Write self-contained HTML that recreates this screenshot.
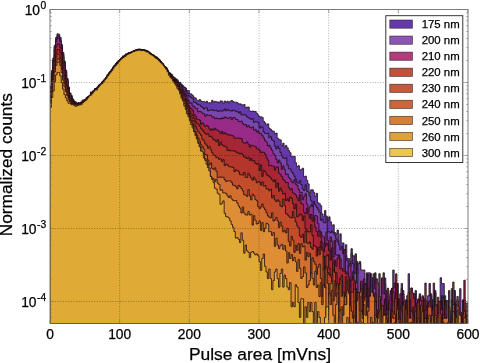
<!DOCTYPE html>
<html><head><meta charset="utf-8"><title>Pulse area histogram</title>
<style>html,body{margin:0;padding:0;background:#fff;}body{width:480px;height:363px;overflow:hidden;}</style></head>
<body>
<svg width="480" height="363" viewBox="0 0 480 363" style="display:block">
<rect width="480" height="363" fill="#fff"/>
<clipPath id="cp"><rect x="50.0" y="9.5" width="418.0" height="314.0"/></clipPath>
<g clip-path="url(#cp)" stroke="#1a0c10" stroke-opacity="0.85" stroke-width="0.95" stroke-linejoin="miter">
<path d="M50.00,323.50V86.06H51.39V70.53H52.79V58.09H54.18V45.27H55.57V37.56H56.97V33.84H58.36V34.17H59.75V37.49H61.15V44.55H62.54V52.61H63.93V61.15H65.33V70.03H66.72V78.57H68.11V87.00H69.51V92.93H70.90V95.56H72.29V99.68H73.69V101.08H75.08V102.39H76.47V104.67H77.87V103.24H79.26V103.45H80.65V104.40H82.05V102.20H83.44V99.84H84.83V99.26H86.23V97.89H87.62V97.05H89.01V95.66H90.41V91.89H91.80V92.13H93.19V90.19H94.59V90.58H95.98V88.22H97.37V86.87H98.77V84.69H100.16V83.95H101.55V82.68H102.95V80.94H104.34V79.44H105.73V79.05H107.13V75.52H108.52V72.85H109.91V71.40H111.31V69.70H112.70V67.12H114.09V65.16H115.49V63.99H116.88V61.90H118.27V60.48H119.67V59.72H121.06V58.41H122.45V55.93H123.85V55.94H125.24V53.93H126.63V53.91H128.03V52.87H129.42V52.51H130.81V51.90H132.21V51.92H133.60V50.62H134.99V50.36H136.39V49.47H137.78V49.25H139.17V49.51H140.57V49.78H141.96V50.00H143.35V49.61H144.75V50.31H146.14V50.78H147.53V51.82H148.93V52.70H150.32V53.46H151.71V55.29H153.11V55.15H154.50V56.22H155.89V56.96H157.29V58.28H158.68V59.44H160.07V62.95H161.47V63.54H162.86V65.40H164.25V67.23H165.65V67.59H167.04V69.94H168.43V72.10H169.83V73.77H171.22V74.70H172.61V76.96H174.01V78.82H175.40V78.80H176.79V79.84H178.19V82.57H179.58V82.28H180.97V84.34H182.37V85.68H183.76V87.00H185.15V88.02H186.55V90.46H187.94V90.65H189.33V93.70H190.73V93.98H192.12V95.58H193.51V97.24H194.91V98.11H196.30V100.15H197.69V100.80H199.09V99.49H200.48V100.96H201.87V101.62H203.27V101.48H204.66V102.64H206.05V101.22H207.45V102.98H208.84V102.66H210.23V102.66H211.63V100.36H213.02V102.08H214.41V101.34H215.81V101.77H217.20V101.89H218.59V102.87H219.99V100.92H221.38V101.22H222.77V103.26H224.17V101.06H225.56V102.31H226.95V101.20H228.35V102.96H229.74V101.18H231.13V100.48H232.53V101.58H233.92V102.20H235.31V102.20H236.71V102.64H238.10V103.87H239.49V103.87H240.89V104.38H242.28V105.44H243.67V104.47H245.07V107.86H246.46V107.07H247.85V107.02H249.25V110.88H250.64V111.57H252.03V110.96H253.43V111.35H254.82V111.46H256.21V113.21H257.61V115.15H259.00V116.79H260.39V116.79H261.79V117.39H263.18V121.24H264.57V122.95H265.97V125.19H267.36V123.89H268.75V128.16H270.15V129.36H271.54V130.87H272.93V131.13H274.33V133.60H275.72V133.05H277.11V138.24H278.51V139.43H279.90V139.90H281.29V145.90H282.69V143.21H284.08V146.91H285.47V145.41H286.87V147.86H288.26V150.61H289.65V152.69H291.05V156.84H292.44V156.26H293.83V156.49H295.23V162.85H296.62V166.58H298.01V165.65H299.41V169.93H300.80V169.40H302.19V168.21H303.59V176.78H304.98V176.13H306.37V180.24H307.77V183.85H309.16V193.71H310.55V189.85H311.95V189.85H313.34V192.25H314.73V196.44H316.13V193.34H317.52V202.71H318.91V203.72H320.31V205.83H321.70V213.88H323.09V216.83H324.49V210.54H325.88V216.06H327.27V220.08H328.67V216.83H330.06V221.84H331.45V225.69H332.85V224.68H334.24V232.51H335.63V233.80H337.03V230.07H338.42V241.21H339.81V233.80H341.21V242.93H342.60V242.93H343.99V250.89H345.39V255.78H346.78V258.54H348.17V258.54H349.57V261.56H350.96V248.71H352.35V255.78H353.75V255.78H355.14V268.63H356.53V261.56H357.93V277.75H359.32V261.56H360.71V277.75H362.11V290.61H363.50V312.58H364.89V283.54H366.29V272.87H367.68V272.87H369.07V272.87H370.47V290.61H371.86V277.75H373.25V312.58H374.65V272.87H376.04V283.54H377.43V290.61H378.83V299.73H380.22V299.73H381.61V277.75H383.01V272.87H384.40V283.54H385.79V290.61H387.19V312.58H388.58V323.50H389.97V290.61H391.37V312.58H392.76V299.73H394.15V299.73H395.55V299.73H396.94V283.54H398.33V323.50H399.73V312.58H401.12V283.54H402.51V290.61H403.91V312.58H405.30V299.73H406.69V299.73H408.09V299.73H409.48V299.73H410.87V299.73H412.27V312.58H413.66V312.58H415.05V290.61H416.45V299.73H417.84V299.73H419.23V299.73H420.63V312.58H422.02V323.50H423.41V323.50H424.81V299.73H426.20V323.50H427.59V312.58H428.99V283.54H430.38V312.58H431.77V299.73H433.17V312.58H434.56V290.61H435.95V323.50H437.35V323.50H438.74V312.58H440.13V277.75H441.53V283.54H442.92V283.54H444.31V299.73H445.71V312.58H447.10V323.50H448.49V290.61H449.89V323.50H451.28V299.73H452.67V312.58H454.07V290.61H455.46V312.58H456.85V299.73H458.25V323.50H459.64V312.58H461.03V312.58H462.43V299.73H463.82V299.73H465.21V323.50H466.61V323.50H468.00V323.50Z" fill="#6439ab"/>
<path d="M50.00,323.50V87.62H51.39V73.10H52.79V60.48H54.18V47.02H55.57V39.72H56.97V35.64H58.36V36.41H59.75V39.93H61.15V46.76H62.54V55.32H63.93V62.44H65.33V72.19H66.72V79.56H68.11V88.40H69.51V94.55H70.90V96.88H72.29V98.95H73.69V101.48H75.08V101.95H76.47V104.56H77.87V102.69H79.26V103.38H80.65V101.86H82.05V102.30H83.44V101.44H84.83V99.58H86.23V97.34H87.62V97.47H89.01V95.53H90.41V93.89H91.80V92.55H93.19V91.28H94.59V88.45H95.98V89.15H97.37V86.41H98.77V85.24H100.16V84.69H101.55V83.17H102.95V82.12H104.34V78.99H105.73V77.78H107.13V75.45H108.52V73.60H109.91V71.41H111.31V68.90H112.70V67.61H114.09V65.19H115.49V63.59H116.88V62.13H118.27V60.75H119.67V59.37H121.06V58.25H122.45V57.16H123.85V56.41H125.24V54.40H126.63V54.36H128.03V52.78H129.42V52.51H130.81V51.89H132.21V51.77H133.60V51.14H134.99V50.42H136.39V50.08H137.78V49.55H139.17V49.74H140.57V49.75H141.96V49.81H143.35V50.37H144.75V50.70H146.14V51.07H147.53V51.26H148.93V53.31H150.32V53.91H151.71V54.94H153.11V55.59H154.50V56.79H155.89V57.34H157.29V58.86H158.68V60.19H160.07V61.75H161.47V63.42H162.86V65.62H164.25V66.46H165.65V68.38H167.04V70.72H168.43V73.01H169.83V73.89H171.22V75.09H172.61V77.23H174.01V77.73H175.40V79.72H176.79V81.24H178.19V82.78H179.58V84.14H180.97V85.89H182.37V87.00H183.76V87.61H185.15V90.46H186.55V92.91H187.94V95.75H189.33V96.42H190.73V97.74H192.12V98.82H193.51V102.28H194.91V102.66H196.30V103.79H197.69V104.85H199.09V104.95H200.48V106.39H201.87V107.27H203.27V108.96H204.66V107.96H206.05V107.88H207.45V110.85H208.84V110.25H210.23V110.16H211.63V109.71H213.02V110.64H214.41V110.46H215.81V110.12H217.20V111.49H218.59V111.13H219.99V110.81H221.38V111.13H222.77V110.71H224.17V108.89H225.56V110.92H226.95V109.42H228.35V110.62H229.74V110.57H231.13V111.23H232.53V110.00H233.92V110.25H235.31V111.65H236.71V111.37H238.10V113.14H239.49V111.89H240.89V114.89H242.28V115.05H243.67V114.73H245.07V115.02H246.46V116.82H247.85V117.62H249.25V118.82H250.64V119.30H252.03V118.61H253.43V122.33H254.82V121.77H256.21V121.93H257.61V122.60H259.00V128.14H260.39V126.46H261.79V127.35H263.18V132.02H264.57V133.41H265.97V133.51H267.36V133.32H268.75V137.67H270.15V136.55H271.54V139.97H272.93V141.04H274.33V146.06H275.72V148.94H277.11V146.13H278.51V148.55H279.90V152.54H281.29V155.82H282.69V158.01H284.08V158.42H285.47V157.80H286.87V165.00H288.26V168.82H289.65V168.82H291.05V171.85H292.44V173.49H293.83V176.29H295.23V179.17H296.62V182.78H298.01V183.23H299.41V180.60H300.80V184.63H302.19V188.96H303.59V190.36H304.98V184.87H306.37V191.23H307.77V192.12H309.16V196.31H310.55V200.35H311.95V206.37H313.34V201.55H314.73V204.98H316.13V207.33H317.52V209.34H318.91V212.05H320.31V220.43H321.70V218.99H323.09V222.72H324.49V222.72H325.88V217.61H327.27V231.84H328.67V231.84H330.06V232.91H331.45V230.80H332.85V232.91H334.24V235.18H335.63V238.91H337.03V241.67H338.42V244.69H339.81V249.85H341.21V246.32H342.60V253.82H343.99V249.85H345.39V244.69H346.78V260.89H348.17V273.74H349.57V266.67H350.96V253.82H352.35V263.65H353.75V273.74H355.14V253.82H356.53V273.74H357.93V263.65H359.32V263.65H360.71V270.01H362.11V270.01H363.50V270.01H364.89V304.84H366.29V273.74H367.68V295.72H369.07V295.72H370.47V273.74H371.86V304.84H373.25V273.74H374.65V288.65H376.04V304.84H377.43V295.72H378.83V273.74H380.22V323.50H381.61V295.72H383.01V295.72H384.40V277.98H385.79V317.69H387.19V304.84H388.58V317.69H389.97V295.72H391.37V288.65H392.76V270.01H394.15V295.72H395.55V282.86H396.94V304.84H398.33V317.69H399.73V304.84H401.12V288.65H402.51V295.72H403.91V317.69H405.30V304.84H406.69V295.72H408.09V273.74H409.48V317.69H410.87V323.50H412.27V323.50H413.66V295.72H415.05V323.50H416.45V317.69H417.84V317.69H419.23V295.72H420.63V317.69H422.02V295.72H423.41V317.69H424.81V304.84H426.20V317.69H427.59V295.72H428.99V295.72H430.38V295.72H431.77V323.50H433.17V304.84H434.56V317.69H435.95V304.84H437.35V323.50H438.74V317.69H440.13V304.84H441.53V295.72H442.92V323.50H444.31V295.72H445.71V304.84H447.10V317.69H448.49V317.69H449.89V317.69H451.28V288.65H452.67V317.69H454.07V323.50H455.46V304.84H456.85V304.84H458.25V317.69H459.64V288.65H461.03V323.50H462.43V323.50H463.82V323.50H465.21V323.50H466.61V323.50H468.00V323.50Z" fill="#7a46ad"/>
<path d="M50.00,323.50V88.38H51.39V74.67H52.79V61.49H54.18V49.43H55.57V41.64H56.97V37.66H58.36V38.67H59.75V41.64H61.15V48.88H62.54V57.22H63.93V65.36H65.33V74.96H66.72V81.71H68.11V89.08H69.51V93.36H70.90V98.56H72.29V100.11H73.69V102.33H75.08V103.90H76.47V104.56H77.87V102.67H79.26V103.04H80.65V103.40H82.05V100.10H83.44V100.68H84.83V100.07H86.23V99.37H87.62V96.47H89.01V95.58H90.41V95.17H91.80V92.28H93.19V91.71H94.59V89.27H95.98V88.13H97.37V87.20H98.77V85.95H100.16V83.80H101.55V81.96H102.95V80.70H104.34V79.57H105.73V77.34H107.13V74.30H108.52V72.78H109.91V72.29H111.31V69.77H112.70V67.27H114.09V65.58H115.49V64.34H116.88V62.01H118.27V61.05H119.67V59.69H121.06V57.90H122.45V56.92H123.85V56.09H125.24V55.03H126.63V54.20H128.03V52.86H129.42V52.61H130.81V52.52H132.21V51.42H133.60V50.59H134.99V50.17H136.39V50.34H137.78V49.36H139.17V49.41H140.57V49.74H141.96V49.83H143.35V49.88H144.75V50.07H146.14V50.82H147.53V51.57H148.93V52.89H150.32V54.73H151.71V54.73H153.11V55.89H154.50V56.96H155.89V57.76H157.29V58.55H158.68V60.60H160.07V61.62H161.47V63.06H162.86V65.13H164.25V67.42H165.65V68.46H167.04V70.70H168.43V73.28H169.83V74.20H171.22V76.46H172.61V76.90H174.01V79.17H175.40V80.77H176.79V82.18H178.19V84.28H179.58V86.42H180.97V86.82H182.37V88.82H183.76V91.25H185.15V94.07H186.55V96.90H187.94V100.51H189.33V103.36H190.73V102.81H192.12V106.12H193.51V106.47H194.91V108.40H196.30V108.42H197.69V112.01H199.09V111.50H200.48V111.87H201.87V113.27H203.27V113.80H204.66V116.17H206.05V114.75H207.45V115.29H208.84V115.25H210.23V115.29H211.63V116.98H213.02V117.00H214.41V118.53H215.81V118.05H217.20V118.93H218.59V118.50H219.99V119.06H221.38V117.81H222.77V118.63H224.17V116.98H225.56V117.58H226.95V118.43H228.35V118.13H229.74V117.24H231.13V119.55H232.53V117.76H233.92V117.61H235.31V119.50H236.71V119.58H238.10V121.60H239.49V121.27H240.89V121.29H242.28V123.66H243.67V124.94H245.07V124.60H246.46V126.88H247.85V125.56H249.25V127.51H250.64V127.94H252.03V126.88H253.43V130.12H254.82V129.37H256.21V132.07H257.61V130.90H259.00V133.54H260.39V133.49H261.79V135.67H263.18V138.01H264.57V140.63H265.97V142.03H267.36V146.03H268.75V145.20H270.15V147.95H271.54V150.40H272.93V153.59H274.33V155.39H275.72V159.15H277.11V162.91H278.51V160.08H279.90V162.91H281.29V169.23H282.69V165.80H284.08V169.35H285.47V174.51H286.87V173.93H288.26V177.45H289.65V178.94H291.05V181.59H292.44V182.71H293.83V179.79H295.23V184.28H296.62V185.51H298.01V189.27H299.41V192.48H300.80V192.22H302.19V199.75H303.59V196.63H304.98V193.80H306.37V203.93H307.77V211.95H309.16V207.07H310.55V205.07H311.95V206.25H313.34V220.76H314.73V215.51H316.13V216.05H317.52V223.40H318.91V232.06H320.31V232.06H321.70V235.91H323.09V236.95H324.49V245.37H325.88V232.06H327.27V240.29H328.67V261.11H330.06V236.95H331.45V241.49H332.85V256.88H334.24V240.29H335.63V254.96H337.03V254.96H338.42V256.88H339.81V258.93H341.21V268.76H342.60V293.76H343.99V249.80H345.39V271.78H346.78V278.85H348.17V266.00H349.57V263.46H350.96V287.97H352.35V271.78H353.75V300.83H355.14V283.09H356.53V268.76H357.93V293.76H359.32V293.76H360.71V283.09H362.11V309.95H363.50V278.85H364.89V293.76H366.29V322.80H367.68V275.12H369.07V300.83H370.47V293.76H371.86V293.76H373.25V300.83H374.65V323.50H376.04V278.85H377.43V283.09H378.83V323.50H380.22V300.83H381.61V278.85H383.01V293.76H384.40V293.76H385.79V309.95H387.19V309.95H388.58V300.83H389.97V293.76H391.37V300.83H392.76V287.97H394.15V283.09H395.55V293.76H396.94V309.95H398.33V309.95H399.73V293.76H401.12V309.95H402.51V293.76H403.91V322.80H405.30V323.50H406.69V300.83H408.09V309.95H409.48V309.95H410.87V287.97H412.27V309.95H413.66V293.76H415.05V323.50H416.45V309.95H417.84V323.50H419.23V293.76H420.63V300.83H422.02V322.80H423.41V323.50H424.81V283.09H426.20V309.95H427.59V309.95H428.99V300.83H430.38V293.76H431.77V309.95H433.17V283.09H434.56V322.80H435.95V322.80H437.35V322.80H438.74V323.50H440.13V300.83H441.53V309.95H442.92V300.83H444.31V323.50H445.71V300.83H447.10V309.95H448.49V309.95H449.89V323.50H451.28V322.80H452.67V309.95H454.07V309.95H455.46V322.80H456.85V323.50H458.25V309.95H459.64V323.50H461.03V322.80H462.43V300.83H463.82V309.95H465.21V323.50H466.61V322.80H468.00V323.50Z" fill="#982a88"/>
<path d="M50.00,323.50V92.50H51.39V78.65H52.79V66.82H54.18V55.00H55.57V46.86H56.97V43.78H58.36V43.97H59.75V47.58H61.15V54.51H62.54V63.02H63.93V70.73H65.33V78.49H66.72V86.17H68.11V92.05H69.51V96.10H70.90V98.98H72.29V100.88H73.69V103.36H75.08V104.55H76.47V104.71H77.87V103.28H79.26V103.79H80.65V102.48H82.05V102.24H83.44V100.65H84.83V99.67H86.23V97.83H87.62V97.19H89.01V96.91H90.41V93.85H91.80V92.95H93.19V90.48H94.59V89.40H95.98V88.86H97.37V87.69H98.77V86.37H100.16V85.40H101.55V81.93H102.95V80.93H104.34V79.85H105.73V77.34H107.13V75.17H108.52V74.13H109.91V71.64H111.31V69.99H112.70V67.83H114.09V65.86H115.49V64.03H116.88V62.59H118.27V61.07H119.67V59.95H121.06V57.86H122.45V57.01H123.85V55.81H125.24V55.29H126.63V54.24H128.03V54.00H129.42V52.63H130.81V52.55H132.21V51.42H133.60V50.98H134.99V49.91H136.39V49.71H137.78V50.01H139.17V48.96H140.57V49.73H141.96V50.05H143.35V50.50H144.75V51.13H146.14V51.21H147.53V51.79H148.93V53.10H150.32V54.00H151.71V54.52H153.11V55.80H154.50V57.24H155.89V58.41H157.29V59.00H158.68V60.82H160.07V61.92H161.47V63.18H162.86V65.14H164.25V66.91H165.65V68.24H167.04V71.56H168.43V72.65H169.83V74.72H171.22V76.92H172.61V78.95H174.01V80.12H175.40V81.61H176.79V82.49H178.19V85.72H179.58V86.37H180.97V89.17H182.37V91.32H183.76V93.95H185.15V98.60H186.55V100.82H187.94V105.44H189.33V107.63H190.73V108.68H192.12V110.66H193.51V114.27H194.91V116.09H196.30V119.09H197.69V119.46H199.09V120.11H200.48V124.25H201.87V122.74H203.27V124.46H204.66V126.46H206.05V125.46H207.45V126.21H208.84V128.74H210.23V130.42H211.63V128.89H213.02V130.17H214.41V128.22H215.81V129.86H217.20V130.29H218.59V131.47H219.99V133.57H221.38V131.27H222.77V133.81H224.17V132.75H225.56V134.05H226.95V134.30H228.35V135.23H229.74V134.94H231.13V135.27H232.53V136.01H233.92V138.20H235.31V138.16H236.71V138.20H238.10V138.12H239.49V138.28H240.89V138.56H242.28V142.24H243.67V143.16H245.07V143.07H246.46V141.93H247.85V144.21H249.25V147.19H250.64V145.24H252.03V145.84H253.43V145.94H254.82V146.30H256.21V148.77H257.61V148.88H259.00V150.37H260.39V152.80H261.79V152.11H263.18V152.30H264.57V154.16H265.97V157.87H267.36V160.10H268.75V165.56H270.15V165.28H271.54V166.04H272.93V166.13H274.33V170.13H275.72V167.21H277.11V166.92H278.51V173.23H279.90V174.59H281.29V176.67H282.69V179.62H284.08V180.67H285.47V182.72H286.87V182.56H288.26V187.44H289.65V189.79H291.05V188.60H292.44V193.00H293.83V193.45H295.23V195.09H296.62V197.59H298.01V200.87H299.41V194.61H300.80V203.57H302.19V204.21H303.59V212.18H304.98V213.87H306.37V208.31H307.77V213.87H309.16V218.54H310.55V214.30H311.95V221.16H313.34V217.55H314.73V227.16H316.13V231.39H317.52V236.28H318.91V230.65H320.31V237.17H321.70V243.13H323.09V251.89H324.49V246.60H325.88V243.13H327.27V245.40H328.67V250.48H330.06V260.07H331.45V247.84H332.85V273.87H334.24V260.07H335.63V266.22H337.03V258.26H338.42V254.91H339.81V268.57H341.21V268.57H342.60V271.11H343.99V271.11H345.39V273.87H346.78V273.87H348.17V276.89H349.57V298.87H350.96V280.23H352.35V276.89H353.75V280.23H355.14V288.20H356.53V293.08H357.93V305.94H359.32V293.08H360.71V293.08H362.11V298.87H363.50V298.87H364.89V283.96H366.29V305.94H367.68V323.50H369.07V288.20H370.47V298.87H371.86V298.87H373.25V298.87H374.65V293.08H376.04V315.06H377.43V315.06H378.83V315.06H380.22V323.50H381.61V323.50H383.01V305.94H384.40V298.87H385.79V315.06H387.19V288.20H388.58V323.50H389.97V315.06H391.37V288.20H392.76V305.94H394.15V298.87H395.55V273.87H396.94V323.50H398.33V298.87H399.73V323.50H401.12V305.94H402.51V315.06H403.91V315.06H405.30V305.94H406.69V323.50H408.09V323.50H409.48V323.50H410.87V288.20H412.27V293.08H413.66V298.87H415.05V323.50H416.45V305.94H417.84V298.87H419.23V323.50H420.63V305.94H422.02V323.50H423.41V298.87H424.81V323.50H426.20V315.06H427.59V315.06H428.99V323.50H430.38V323.50H431.77V323.50H433.17V323.50H434.56V293.08H435.95V305.94H437.35V323.50H438.74V323.50H440.13V323.50H441.53V323.50H442.92V305.94H444.31V323.50H445.71V323.50H447.10V315.06H448.49V323.50H449.89V323.50H451.28V315.06H452.67V323.50H454.07V323.50H455.46V323.50H456.85V315.06H458.25V315.06H459.64V315.06H461.03V323.50H462.43V323.50H463.82V280.23H465.21V323.50H466.61V315.06H468.00V323.50Z" fill="#a62636"/>
<path d="M50.00,323.50V96.67H51.39V83.18H52.79V72.13H54.18V60.25H55.57V53.37H56.97V49.48H58.36V49.72H59.75V52.89H61.15V60.06H62.54V67.62H63.93V75.84H65.33V82.75H66.72V88.74H68.11V95.37H69.51V98.05H70.90V100.10H72.29V102.27H73.69V104.32H75.08V103.71H76.47V104.82H77.87V103.77H79.26V103.44H80.65V103.91H82.05V102.96H83.44V100.82H84.83V100.89H86.23V98.82H87.62V96.74H89.01V95.90H90.41V94.56H91.80V93.22H93.19V91.75H94.59V89.33H95.98V89.17H97.37V87.29H98.77V86.13H100.16V84.28H101.55V83.19H102.95V81.41H104.34V79.40H105.73V77.78H107.13V75.40H108.52V74.07H109.91V72.46H111.31V69.96H112.70V67.49H114.09V66.47H115.49V64.00H116.88V62.65H118.27V61.41H119.67V59.91H121.06V58.57H122.45V56.87H123.85V56.07H125.24V55.33H126.63V54.46H128.03V53.41H129.42V53.34H130.81V52.57H132.21V51.89H133.60V51.06H134.99V50.61H136.39V49.91H137.78V49.32H139.17V50.28H140.57V49.42H141.96V49.78H143.35V50.84H144.75V50.94H146.14V51.06H147.53V51.52H148.93V53.17H150.32V54.19H151.71V54.98H153.11V56.15H154.50V56.53H155.89V58.07H157.29V58.73H158.68V60.42H160.07V62.20H161.47V63.46H162.86V65.65H164.25V66.99H165.65V69.25H167.04V70.96H168.43V72.49H169.83V75.34H171.22V76.65H172.61V77.62H174.01V80.08H175.40V81.45H176.79V85.22H178.19V85.86H179.58V89.00H180.97V90.61H182.37V93.12H183.76V95.81H185.15V99.77H186.55V103.96H187.94V107.36H189.33V111.07H190.73V114.15H192.12V115.53H193.51V118.40H194.91V121.27H196.30V123.51H197.69V124.31H199.09V126.34H200.48V128.49H201.87V130.21H203.27V131.86H204.66V133.48H206.05V134.34H207.45V133.82H208.84V136.46H210.23V136.06H211.63V137.75H213.02V139.71H214.41V140.12H215.81V141.92H217.20V139.60H218.59V145.64H219.99V142.03H221.38V144.76H222.77V145.86H224.17V146.26H225.56V146.99H226.95V150.57H228.35V149.85H229.74V150.93H231.13V150.57H232.53V150.98H233.92V150.78H235.31V151.89H236.71V152.99H238.10V153.04H239.49V153.95H240.89V153.10H242.28V154.77H243.67V156.98H245.07V157.42H246.46V158.47H247.85V157.42H249.25V160.46H250.64V158.53H252.03V161.10H253.43V160.60H254.82V163.19H256.21V164.21H257.61V163.50H259.00V170.44H260.39V164.93H261.79V176.39H263.18V170.34H264.57V171.62H265.97V174.69H267.36V175.47H268.75V176.63H270.15V177.95H271.54V179.98H272.93V181.73H274.33V179.85H275.72V187.65H277.11V183.00H278.51V191.18H279.90V187.99H281.29V190.99H282.69V194.11H284.08V193.30H285.47V200.67H286.87V198.72H288.26V201.18H289.65V197.11H291.05V198.25H292.44V203.57H293.83V208.97H295.23V204.13H296.62V216.70H298.01V215.88H299.41V213.91H300.80V214.68H302.19V220.70H303.59V215.88H304.98V228.73H306.37V230.62H307.77V231.94H309.16V231.94H310.55V224.73H311.95V235.50H313.34V246.17H314.73V247.24H316.13V247.24H317.52V251.95H318.91V247.24H320.31V241.28H321.70V257.48H323.09V256.00H324.49V268.15H325.88V256.00H327.27V254.59H328.67V268.15H330.06V275.22H331.45V275.22H332.85V262.37H334.24V277.98H335.63V272.68H337.03V292.31H338.42V292.31H339.81V277.98H341.21V275.22H342.60V323.50H343.99V292.31H345.39V297.19H346.78V281.00H348.17V297.19H349.57V302.98H350.96V323.50H352.35V319.17H353.75V297.19H355.14V310.05H356.53V310.05H357.93V297.19H359.32V302.98H360.71V281.00H362.11V323.50H363.50V302.98H364.89V323.50H366.29V302.98H367.68V319.17H369.07V323.50H370.47V288.07H371.86V323.50H373.25V319.17H374.65V319.17H376.04V310.05H377.43V323.50H378.83V323.50H380.22V302.98H381.61V319.17H383.01V319.17H384.40V302.98H385.79V319.17H387.19V323.50H388.58V302.98H389.97V323.50H391.37V310.05H392.76V310.05H394.15V319.17H395.55V323.50H396.94V323.50H398.33V302.98H399.73V319.17H401.12V323.50H402.51V302.98H403.91V319.17H405.30V310.05H406.69V323.50H408.09V310.05H409.48V319.17H410.87V319.17H412.27V310.05H413.66V319.17H415.05V323.50H416.45V302.98H417.84V302.98H419.23V310.05H420.63V323.50H422.02V297.19H423.41V323.50H424.81V310.05H426.20V323.50H427.59V302.98H428.99V319.17H430.38V323.50H431.77V323.50H433.17V310.05H434.56V323.50H435.95V323.50H437.35V297.19H438.74V323.50H440.13V323.50H441.53V319.17H442.92V297.19H444.31V323.50H445.71V323.50H447.10V323.50H448.49V310.05H449.89V323.50H451.28V319.17H452.67V323.50H454.07V302.98H455.46V323.50H456.85V323.50H458.25V319.17H459.64V323.50H461.03V323.50H462.43V323.50H463.82V323.50H465.21V323.50H466.61V302.98H468.00V323.50Z" fill="#b4352c"/>
<path d="M50.00,323.50V98.57H51.39V86.79H52.79V76.46H54.18V65.11H55.57V57.00H56.97V54.26H58.36V54.50H59.75V58.25H61.15V64.76H62.54V72.74H63.93V79.13H65.33V85.17H66.72V92.03H68.11V97.03H69.51V100.31H70.90V102.07H72.29V103.21H73.69V105.46H75.08V103.49H76.47V106.03H77.87V104.94H79.26V103.93H80.65V104.00H82.05V102.45H83.44V102.22H84.83V99.84H86.23V98.94H87.62V97.77H89.01V96.83H90.41V94.20H91.80V92.76H93.19V90.88H94.59V90.26H95.98V89.36H97.37V87.61H98.77V85.25H100.16V84.49H101.55V82.94H102.95V82.07H104.34V80.05H105.73V77.50H107.13V75.40H108.52V74.20H109.91V71.58H111.31V70.20H112.70V68.07H114.09V66.36H115.49V64.18H116.88V62.95H118.27V60.72H119.67V59.72H121.06V58.56H122.45V57.46H123.85V56.66H125.24V55.40H126.63V54.41H128.03V53.75H129.42V52.78H130.81V52.31H132.21V51.26H133.60V51.61H134.99V50.63H136.39V49.95H137.78V49.59H139.17V49.68H140.57V49.89H141.96V50.25H143.35V50.41H144.75V50.76H146.14V51.19H147.53V52.06H148.93V52.94H150.32V54.00H151.71V54.67H153.11V55.76H154.50V56.89H155.89V57.76H157.29V59.33H158.68V60.76H160.07V62.22H161.47V62.98H162.86V65.01H164.25V66.74H165.65V68.61H167.04V71.63H168.43V74.09H169.83V75.26H171.22V76.83H172.61V79.57H174.01V81.20H175.40V82.96H176.79V84.82H178.19V86.93H179.58V90.15H180.97V92.50H182.37V95.35H183.76V99.37H185.15V102.06H186.55V106.58H187.94V110.37H189.33V115.00H190.73V117.01H192.12V120.48H193.51V121.88H194.91V125.94H196.30V129.22H197.69V131.68H199.09V133.44H200.48V135.35H201.87V139.40H203.27V140.90H204.66V143.85H206.05V145.25H207.45V148.27H208.84V146.58H210.23V149.92H211.63V152.57H213.02V155.09H214.41V155.52H215.81V157.55H217.20V157.61H218.59V159.36H219.99V158.76H221.38V161.79H222.77V159.66H224.17V165.65H225.56V164.01H226.95V164.99H228.35V166.46H229.74V166.99H231.13V167.07H232.53V167.45H233.92V171.59H235.31V169.95H236.71V170.55H238.10V171.68H239.49V174.65H240.89V174.74H242.28V175.14H243.67V172.39H245.07V177.49H246.46V177.39H247.85V173.22H249.25V175.73H250.64V178.14H252.03V180.15H253.43V177.17H254.82V179.58H256.21V182.81H257.61V181.70H259.00V181.94H260.39V185.16H261.79V181.94H263.18V186.12H264.57V185.57H265.97V188.89H267.36V189.04H268.75V190.78H270.15V189.04H271.54V198.01H272.93V195.47H274.33V199.90H275.72V201.67H277.11V199.90H278.51V201.22H279.90V205.81H281.29V206.86H282.69V199.04H284.08V205.55H285.47V213.40H286.87V214.75H288.26V216.16H289.65V217.64H291.05V218.02H292.44V211.48H293.83V217.64H295.23V222.09H296.62V225.77H298.01V227.78H299.41V236.05H300.80V237.43H302.19V234.09H303.59V242.79H304.98V231.06H306.37V242.79H307.77V243.63H309.16V241.96H310.55V247.26H311.95V249.24H313.34V245.39H314.73V246.31H316.13V256.06H317.52V249.24H318.91V254.82H320.31V247.26H321.70V250.28H323.09V270.21H324.49V268.29H325.88V266.48H327.27V272.26H328.67V274.44H330.06V276.79H331.45V282.09H332.85V270.21H334.24V272.26H335.63V285.11H337.03V288.45H338.42V285.11H339.81V279.33H341.21V282.09H342.60V307.09H343.99V296.42H345.39V276.79H346.78V292.18H348.17V279.33H349.57V323.50H350.96V292.18H352.35V292.18H353.75V282.09H355.14V323.50H356.53V292.18H357.93V307.09H359.32V292.18H360.71V288.45H362.11V314.16H363.50V301.30H364.89V314.16H366.29V296.42H367.68V307.09H369.07V307.09H370.47V301.30H371.86V301.30H373.25V307.09H374.65V301.30H376.04V323.50H377.43V314.16H378.83V296.42H380.22V323.50H381.61V323.28H383.01V323.50H384.40V314.16H385.79V323.28H387.19V323.50H388.58V323.50H389.97V323.50H391.37V323.50H392.76V292.18H394.15V314.16H395.55V323.50H396.94V323.50H398.33V323.50H399.73V323.50H401.12V323.50H402.51V323.50H403.91V301.30H405.30V323.50H406.69V314.16H408.09V323.50H409.48V323.50H410.87V314.16H412.27V307.09H413.66V323.50H415.05V307.09H416.45V323.50H417.84V301.30H419.23V323.50H420.63V323.50H422.02V323.28H423.41V323.50H424.81V323.28H426.20V323.50H427.59V307.09H428.99V301.30H430.38V307.09H431.77V323.50H433.17V307.09H434.56V323.28H435.95V323.50H437.35V314.16H438.74V301.30H440.13V314.16H441.53V323.50H442.92V314.16H444.31V323.50H445.71V323.28H447.10V323.50H448.49V307.09H449.89V323.50H451.28V323.28H452.67V282.09H454.07V314.16H455.46V323.28H456.85V296.42H458.25V307.09H459.64V323.50H461.03V323.50H462.43V314.16H463.82V314.16H465.21V323.50H466.61V323.28H468.00V323.50Z" fill="#c24d2b"/>
<path d="M50.00,323.50V100.51H51.39V89.82H52.79V79.49H54.18V68.89H55.57V61.66H56.97V58.37H58.36V59.35H59.75V62.12H61.15V69.00H62.54V76.72H63.93V83.70H65.33V89.87H66.72V94.97H68.11V97.84H69.51V100.65H70.90V102.68H72.29V103.74H73.69V103.86H75.08V104.57H76.47V104.08H77.87V104.48H79.26V103.66H80.65V104.06H82.05V102.30H83.44V100.49H84.83V99.66H86.23V99.35H87.62V97.62H89.01V96.52H90.41V95.20H91.80V92.89H93.19V91.38H94.59V90.24H95.98V89.20H97.37V87.16H98.77V85.64H100.16V84.13H101.55V82.52H102.95V81.58H104.34V78.80H105.73V77.72H107.13V75.83H108.52V73.93H109.91V72.20H111.31V70.11H112.70V67.49H114.09V66.12H115.49V63.89H116.88V63.15H118.27V61.53H119.67V60.06H121.06V58.69H122.45V57.33H123.85V56.13H125.24V55.03H126.63V54.21H128.03V53.59H129.42V53.04H130.81V52.25H132.21V51.59H133.60V51.54H134.99V50.53H136.39V50.36H137.78V50.34H139.17V49.76H140.57V49.98H141.96V50.52H143.35V50.38H144.75V50.94H146.14V51.23H147.53V51.99H148.93V53.43H150.32V54.47H151.71V55.40H153.11V56.23H154.50V57.41H155.89V58.36H157.29V59.35H158.68V60.49H160.07V62.19H161.47V63.75H162.86V65.61H164.25V66.51H165.65V69.55H167.04V72.04H168.43V73.94H169.83V75.90H171.22V77.63H172.61V79.93H174.01V81.51H175.40V83.42H176.79V86.14H178.19V89.11H179.58V91.89H180.97V95.27H182.37V98.86H183.76V100.76H185.15V105.81H186.55V108.52H187.94V113.43H189.33V116.66H190.73V120.95H192.12V123.65H193.51V126.34H194.91V131.73H196.30V135.00H197.69V138.19H199.09V141.10H200.48V144.71H201.87V146.60H203.27V149.05H204.66V154.35H206.05V154.85H207.45V160.11H208.84V164.94H210.23V162.87H211.63V168.32H213.02V169.46H214.41V167.84H215.81V171.26H217.20V177.42H218.59V177.24H219.99V176.96H221.38V177.33H222.77V177.24H224.17V179.74H225.56V181.50H226.95V180.97H228.35V180.76H229.74V180.87H231.13V182.57H232.53V185.20H233.92V185.44H235.31V186.79H236.71V188.86H238.10V185.32H239.49V186.54H240.89V188.46H242.28V190.94H243.67V194.72H245.07V195.05H246.46V196.38H247.85V189.68H249.25V196.04H250.64V199.96H252.03V194.24H253.43V195.70H254.82V199.40H256.21V200.73H257.61V206.47H259.00V208.64H260.39V206.94H261.79V204.01H263.18V207.66H264.57V209.66H265.97V212.91H267.36V215.90H268.75V217.19H270.15V217.85H271.54V212.91H272.93V221.00H274.33V219.91H275.72V217.51H277.11V221.00H278.51V227.53H279.90V222.13H281.29V226.20H282.69V231.89H284.08V230.37H285.47V232.95H286.87V228.45H288.26V241.54H289.65V246.07H291.05V236.35H292.44V240.16H293.83V252.34H295.23V245.27H296.62V250.42H298.01V243.72H299.41V253.35H300.80V243.72H302.19V246.90H303.59V246.07H304.98V260.17H306.37V252.34H307.77V256.58H309.16V253.35H310.55V274.32H311.95V257.73H313.34V261.46H314.73V264.22H316.13V274.32H317.52V267.24H318.91V264.22H320.31V278.55H321.70V296.29H323.09V268.87H324.49V289.22H325.88V268.87H327.27V283.44H328.67V296.29H330.06V283.44H331.45V283.44H332.85V300.53H334.24V280.90H335.63V296.29H337.03V283.44H338.42V311.20H339.81V283.44H341.21V296.29H342.60V292.56H343.99V323.50H345.39V318.27H346.78V296.29H348.17V300.53H349.57V305.41H350.96V311.20H352.35V318.27H353.75V289.22H355.14V323.50H356.53V300.53H357.93V292.56H359.32V311.20H360.71V311.20H362.11V318.27H363.50V300.53H364.89V296.29H366.29V318.27H367.68V311.20H369.07V296.29H370.47V286.20H371.86V292.56H373.25V296.29H374.65V318.27H376.04V323.50H377.43V318.27H378.83V311.20H380.22V323.50H381.61V305.41H383.01V318.27H384.40V323.50H385.79V318.27H387.19V323.50H388.58V311.20H389.97V323.50H391.37V311.20H392.76V318.27H394.15V318.27H395.55V323.50H396.94V323.50H398.33V318.27H399.73V323.50H401.12V311.20H402.51V318.27H403.91V323.50H405.30V323.50H406.69V323.50H408.09V292.56H409.48V318.27H410.87V311.20H412.27V323.50H413.66V323.50H415.05V311.20H416.45V323.50H417.84V318.27H419.23V323.50H420.63V305.41H422.02V323.50H423.41V323.50H424.81V318.27H426.20V323.50H427.59V318.27H428.99V318.27H430.38V323.50H431.77V323.50H433.17V323.50H434.56V323.50H435.95V323.50H437.35V323.50H438.74V323.50H440.13V323.50H441.53V323.50H442.92V318.27H444.31V318.27H445.71V318.27H447.10V300.53H448.49V323.50H449.89V323.50H451.28V323.50H452.67V323.50H454.07V318.27H455.46V323.50H456.85V311.20H458.25V318.27H459.64V323.50H461.03V323.50H462.43V323.50H463.82V311.20H465.21V318.27H466.61V323.50H468.00V323.50Z" fill="#d26f2f"/>
<path d="M50.00,323.50V102.47H51.39V91.96H52.79V82.04H54.18V71.97H55.57V65.29H56.97V62.28H58.36V62.32H59.75V65.61H61.15V72.52H62.54V80.19H63.93V86.79H65.33V91.70H66.72V95.83H68.11V99.82H69.51V101.96H70.90V103.55H72.29V104.80H73.69V104.84H75.08V104.43H76.47V105.32H77.87V104.97H79.26V105.13H80.65V103.40H82.05V102.35H83.44V101.76H84.83V99.92H86.23V99.27H87.62V97.11H89.01V97.15H90.41V94.66H91.80V93.06H93.19V90.79H94.59V90.79H95.98V88.93H97.37V87.77H98.77V86.37H100.16V84.53H101.55V83.25H102.95V81.66H104.34V79.49H105.73V77.83H107.13V76.07H108.52V74.24H109.91V72.25H111.31V70.61H112.70V67.98H114.09V66.12H115.49V64.57H116.88V62.80H118.27V61.36H119.67V60.49H121.06V58.29H122.45V57.39H123.85V56.32H125.24V55.29H126.63V54.75H128.03V54.19H129.42V53.07H130.81V52.75H132.21V52.14H133.60V51.38H134.99V50.76H136.39V50.57H137.78V50.24H139.17V49.85H140.57V50.01H141.96V50.13H143.35V50.68H144.75V51.19H146.14V51.68H147.53V52.16H148.93V53.78H150.32V54.41H151.71V55.08H153.11V56.00H154.50V56.83H155.89V58.38H157.29V59.48H158.68V60.80H160.07V62.12H161.47V63.36H162.86V65.06H164.25V67.51H165.65V69.35H167.04V71.26H168.43V73.93H169.83V76.66H171.22V78.34H172.61V80.46H174.01V82.00H175.40V84.61H176.79V86.49H178.19V89.42H179.58V92.62H180.97V96.41H182.37V100.48H183.76V103.36H185.15V107.30H186.55V111.73H187.94V114.93H189.33V118.88H190.73V122.54H192.12V125.42H193.51V130.92H194.91V133.83H196.30V137.60H197.69V141.98H199.09V145.81H200.48V147.46H201.87V153.20H203.27V154.13H204.66V158.59H206.05V160.74H207.45V165.15H208.84V168.06H210.23V176.38H211.63V178.09H213.02V179.02H214.41V181.63H215.81V179.02H217.20V183.16H218.59V184.46H219.99V190.28H221.38V189.79H222.77V192.97H224.17V192.84H225.56V193.51H226.95V195.91H228.35V197.57H229.74V195.77H231.13V199.00H232.53V200.32H233.92V200.83H235.31V200.49H236.71V202.95H238.10V206.03H239.49V208.12H240.89V213.00H242.28V207.06H243.67V213.00H245.07V214.82H246.46V215.08H247.85V211.53H249.25V215.08H250.64V214.29H252.03V225.11H253.43V215.62H254.82V220.33H256.21V224.02H257.61V223.32H259.00V220.97H260.39V230.31H261.79V222.63H263.18V231.64H264.57V228.21H265.97V223.32H267.36V224.02H268.75V231.64H270.15V231.64H271.54V235.49H272.93V232.56H274.33V246.36H275.72V238.15H277.11V244.95H278.51V248.60H279.90V245.65H281.29V244.27H282.69V249.38H284.08V245.65H285.47V251.01H286.87V263.04H288.26V252.72H289.65V258.50H291.05V254.53H292.44V260.69H293.83V257.46H295.23V261.84H296.62V271.35H298.01V259.57H299.41V268.33H300.80V278.43H302.19V276.51H303.59V266.92H304.98V272.98H306.37V287.55H307.77V285.01H309.16V280.48H310.55V272.98H311.95V278.43H313.34V285.01H314.73V271.35H316.13V287.55H317.52V285.01H318.91V296.67H320.31V282.66H321.70V304.64H323.09V285.01H324.49V287.55H325.88V315.31H327.27V309.52H328.67V293.33H330.06V304.64H331.45V290.31H332.85V315.31H334.24V323.50H335.63V304.64H337.03V293.33H338.42V322.38H339.81V309.52H341.21V315.31H342.60V315.31H343.99V304.64H345.39V304.64H346.78V290.31H348.17V293.33H349.57V322.38H350.96V323.50H352.35V323.50H353.75V315.31H355.14V322.38H356.53V322.38H357.93V322.38H359.32V296.67H360.71V322.38H362.11V323.50H363.50V304.64H364.89V315.31H366.29V315.31H367.68V323.50H369.07V323.50H370.47V323.50H371.86V322.38H373.25V322.38H374.65V315.31H376.04V323.50H377.43V323.50H378.83V323.50H380.22V309.52H381.61V323.50H383.01V315.31H384.40V315.31H385.79V323.50H387.19V323.50H388.58V309.52H389.97V323.50H391.37V323.50H392.76V323.50H394.15V322.38H395.55V323.50H396.94V309.52H398.33V322.38H399.73V323.50H401.12V323.50H402.51V304.64H403.91V323.50H405.30V309.52H406.69V323.50H408.09V323.50H409.48V322.38H410.87V322.38H412.27V323.50H413.66V323.50H415.05V323.50H416.45V323.50H417.84V323.50H419.23V323.50H420.63V323.50H422.02V323.50H423.41V323.50H424.81V323.50H426.20V323.50H427.59V323.50H428.99V315.31H430.38V322.38H431.77V315.31H433.17V323.50H434.56V315.31H435.95V323.50H437.35V323.50H438.74V315.31H440.13V323.50H441.53V323.50H442.92V322.38H444.31V323.50H445.71V323.50H447.10V322.38H448.49V322.38H449.89V323.50H451.28V323.50H452.67V304.64H454.07V323.50H455.46V323.50H456.85V323.50H458.25V309.52H459.64V315.31H461.03V323.50H462.43V323.50H463.82V323.50H465.21V323.50H466.61V323.50H468.00V323.50Z" fill="#de8f35"/>
<path d="M50.00,323.50V107.30H51.39V97.53H52.79V91.01H54.18V81.70H55.57V74.94H56.97V72.37H58.36V72.60H59.75V75.87H61.15V82.58H62.54V89.13H63.93V94.63H65.33V97.83H66.72V100.90H68.11V103.40H69.51V103.36H70.90V104.68H72.29V104.30H73.69V105.50H75.08V106.38H76.47V105.66H77.87V105.21H79.26V104.82H80.65V104.68H82.05V102.88H83.44V101.65H84.83V100.69H86.23V99.26H87.62V97.50H89.01V95.71H90.41V95.07H91.80V93.28H93.19V91.60H94.59V90.00H95.98V90.01H97.37V87.78H98.77V86.01H100.16V84.37H101.55V83.51H102.95V81.68H104.34V79.90H105.73V78.26H107.13V75.96H108.52V74.16H109.91V72.14H111.31V70.65H112.70V68.60H114.09V66.33H115.49V65.25H116.88V63.52H118.27V61.52H119.67V60.12H121.06V58.68H122.45V57.65H123.85V56.81H125.24V55.86H126.63V54.40H128.03V53.97H129.42V53.36H130.81V52.66H132.21V51.80H133.60V51.49H134.99V50.75H136.39V50.69H137.78V50.25H139.17V49.99H140.57V50.71H141.96V50.39H143.35V50.63H144.75V51.10H146.14V52.03H147.53V52.12H148.93V53.55H150.32V54.57H151.71V55.31H153.11V56.21H154.50V57.74H155.89V58.43H157.29V59.46H158.68V61.05H160.07V62.48H161.47V63.74H162.86V65.37H164.25V67.38H165.65V69.17H167.04V71.87H168.43V75.24H169.83V77.33H171.22V78.83H172.61V81.18H174.01V83.36H175.40V85.32H176.79V88.31H178.19V90.22H179.58V93.96H180.97V98.14H182.37V100.79H183.76V105.76H185.15V109.42H186.55V113.80H187.94V116.76H189.33V120.76H190.73V124.66H192.12V128.04H193.51V131.63H194.91V135.38H196.30V139.07H197.69V143.27H199.09V146.80H200.48V151.07H201.87V151.74H203.27V157.85H204.66V160.34H206.05V164.24H207.45V167.60H208.84V170.97H210.23V176.64H211.63V179.46H213.02V182.63H214.41V188.14H215.81V189.13H217.20V193.26H218.59V194.29H219.99V204.34H221.38V203.28H222.77V200.94H224.17V213.40H225.56V216.66H226.95V216.93H228.35V218.01H229.74V220.89H231.13V224.40H232.53V227.22H233.92V231.56H235.31V238.11H236.71V237.60H238.10V239.17H239.49V242.57H240.89V232.85H242.28V240.26H243.67V253.12H245.07V245.06H246.46V250.71H247.85V252.29H249.25V257.59H250.64V252.29H252.03V251.49H253.43V253.12H254.82V254.83H256.21V253.96H257.61V255.72H259.00V261.68H260.39V270.44H261.79V258.56H263.18V253.96H264.57V266.39H265.97V271.92H267.36V278.62H268.75V269.03H270.15V278.62H271.54V289.66H272.93V280.54H274.33V271.92H275.72V269.03H277.11V278.62H278.51V287.12H279.90V273.46H281.29V269.03H282.69V287.12H284.08V275.09H285.47V278.62H286.87V287.12H288.26V289.66H289.65V282.59H291.05V306.75H292.44V302.51H293.83V306.75H295.23V284.77H296.62V287.12H298.01V302.51H299.41V317.42H300.80V298.78H302.19V298.78H303.59V323.50H304.98V306.75H306.37V317.42H307.77V302.51H309.16V311.63H310.55V302.51H311.95V311.63H313.34V323.50H314.73V302.51H316.13V323.50H317.52V311.63H318.91V317.42H320.31V323.50H321.70V323.50H323.09V323.50H324.49V317.42H325.88V306.75H327.27V306.75H328.67V323.50H330.06V323.50H331.45V323.50H332.85V323.50H334.24V323.50H335.63V323.50H337.03V323.50H338.42V317.42H339.81V323.50H341.21V306.75H342.60V323.50H343.99V323.50H345.39V323.50H346.78V317.42H348.17V323.50H349.57V323.50H350.96V323.50H352.35V323.50H353.75V317.42H355.14V323.50H356.53V323.50H357.93V323.50H359.32V323.50H360.71V323.50H362.11V323.50H363.50V323.50H364.89V323.50H366.29V323.50H367.68V323.50H369.07V323.50H370.47V317.42H371.86V323.50H373.25V323.50H374.65V323.50H376.04V317.42H377.43V323.50H378.83V323.50H380.22V323.50H381.61V323.50H383.01V323.50H384.40V323.50H385.79V323.50H387.19V323.50H388.58V323.50H389.97V323.50H391.37V323.50H392.76V323.50H394.15V323.50H395.55V323.50H396.94V323.50H398.33V323.50H399.73V323.50H401.12V323.50H402.51V323.50H403.91V323.50H405.30V323.50H406.69V323.50H408.09V323.50H409.48V323.50H410.87V323.50H412.27V323.50H413.66V323.50H415.05V323.50H416.45V323.50H417.84V323.50H419.23V323.50H420.63V323.50H422.02V311.63H423.41V323.50H424.81V323.50H426.20V323.50H427.59V323.50H428.99V323.50H430.38V323.50H431.77V323.50H433.17V323.50H434.56V323.50H435.95V323.50H437.35V317.42H438.74V323.50H440.13V323.50H441.53V323.50H442.92V323.50H444.31V323.50H445.71V323.50H447.10V323.50H448.49V323.50H449.89V323.50H451.28V323.50H452.67V311.63H454.07V323.50H455.46V317.42H456.85V323.50H458.25V323.50H459.64V323.50H461.03V323.50H462.43V323.50H463.82V317.42H465.21V323.50H466.61V323.50H468.00V323.50Z" fill="#dfab35"/>
</g>
<g stroke="#000" stroke-opacity="0.36" stroke-width="0.9" stroke-dasharray="1 1.6" fill="none">
<line x1="119.67" y1="9.5" x2="119.67" y2="323.5"/>
<line x1="189.33" y1="9.5" x2="189.33" y2="323.5"/>
<line x1="259.00" y1="9.5" x2="259.00" y2="323.5"/>
<line x1="328.67" y1="9.5" x2="328.67" y2="323.5"/>
<line x1="398.33" y1="9.5" x2="398.33" y2="323.5"/>
<line x1="50.0" y1="82.50" x2="468.0" y2="82.50"/>
<line x1="50.0" y1="155.50" x2="468.0" y2="155.50"/>
<line x1="50.0" y1="228.50" x2="468.0" y2="228.50"/>
<line x1="50.0" y1="301.50" x2="468.0" y2="301.50"/>
</g>
<rect x="50.0" y="9.5" width="418.0" height="314.0" fill="none" stroke="#666" stroke-width="0.85"/>
<g stroke="#777" stroke-width="0.6">
<line x1="50.00" y1="323.5" x2="50.00" y2="320.0"/>
<line x1="50.00" y1="9.5" x2="50.00" y2="13.0"/>
<line x1="119.67" y1="323.5" x2="119.67" y2="320.0"/>
<line x1="119.67" y1="9.5" x2="119.67" y2="13.0"/>
<line x1="189.33" y1="323.5" x2="189.33" y2="320.0"/>
<line x1="189.33" y1="9.5" x2="189.33" y2="13.0"/>
<line x1="259.00" y1="323.5" x2="259.00" y2="320.0"/>
<line x1="259.00" y1="9.5" x2="259.00" y2="13.0"/>
<line x1="328.67" y1="323.5" x2="328.67" y2="320.0"/>
<line x1="328.67" y1="9.5" x2="328.67" y2="13.0"/>
<line x1="398.33" y1="323.5" x2="398.33" y2="320.0"/>
<line x1="398.33" y1="9.5" x2="398.33" y2="13.0"/>
<line x1="468.00" y1="323.5" x2="468.00" y2="320.0"/>
<line x1="468.00" y1="9.5" x2="468.00" y2="13.0"/>
<line x1="50.0" y1="9.50" x2="53.5" y2="9.50"/>
<line x1="468.0" y1="9.50" x2="464.5" y2="9.50"/>
<line x1="50.0" y1="60.52" x2="51.8" y2="60.52"/>
<line x1="468.0" y1="60.52" x2="466.2" y2="60.52"/>
<line x1="50.0" y1="47.67" x2="51.8" y2="47.67"/>
<line x1="468.0" y1="47.67" x2="466.2" y2="47.67"/>
<line x1="50.0" y1="38.55" x2="51.8" y2="38.55"/>
<line x1="468.0" y1="38.55" x2="466.2" y2="38.55"/>
<line x1="50.0" y1="31.48" x2="51.8" y2="31.48"/>
<line x1="468.0" y1="31.48" x2="466.2" y2="31.48"/>
<line x1="50.0" y1="25.69" x2="51.8" y2="25.69"/>
<line x1="468.0" y1="25.69" x2="466.2" y2="25.69"/>
<line x1="50.0" y1="20.81" x2="51.8" y2="20.81"/>
<line x1="468.0" y1="20.81" x2="466.2" y2="20.81"/>
<line x1="50.0" y1="16.57" x2="51.8" y2="16.57"/>
<line x1="468.0" y1="16.57" x2="466.2" y2="16.57"/>
<line x1="50.0" y1="12.84" x2="51.8" y2="12.84"/>
<line x1="468.0" y1="12.84" x2="466.2" y2="12.84"/>
<line x1="50.0" y1="82.50" x2="53.5" y2="82.50"/>
<line x1="468.0" y1="82.50" x2="464.5" y2="82.50"/>
<line x1="50.0" y1="133.52" x2="51.8" y2="133.52"/>
<line x1="468.0" y1="133.52" x2="466.2" y2="133.52"/>
<line x1="50.0" y1="120.67" x2="51.8" y2="120.67"/>
<line x1="468.0" y1="120.67" x2="466.2" y2="120.67"/>
<line x1="50.0" y1="111.55" x2="51.8" y2="111.55"/>
<line x1="468.0" y1="111.55" x2="466.2" y2="111.55"/>
<line x1="50.0" y1="104.48" x2="51.8" y2="104.48"/>
<line x1="468.0" y1="104.48" x2="466.2" y2="104.48"/>
<line x1="50.0" y1="98.69" x2="51.8" y2="98.69"/>
<line x1="468.0" y1="98.69" x2="466.2" y2="98.69"/>
<line x1="50.0" y1="93.81" x2="51.8" y2="93.81"/>
<line x1="468.0" y1="93.81" x2="466.2" y2="93.81"/>
<line x1="50.0" y1="89.57" x2="51.8" y2="89.57"/>
<line x1="468.0" y1="89.57" x2="466.2" y2="89.57"/>
<line x1="50.0" y1="85.84" x2="51.8" y2="85.84"/>
<line x1="468.0" y1="85.84" x2="466.2" y2="85.84"/>
<line x1="50.0" y1="155.50" x2="53.5" y2="155.50"/>
<line x1="468.0" y1="155.50" x2="464.5" y2="155.50"/>
<line x1="50.0" y1="206.52" x2="51.8" y2="206.52"/>
<line x1="468.0" y1="206.52" x2="466.2" y2="206.52"/>
<line x1="50.0" y1="193.67" x2="51.8" y2="193.67"/>
<line x1="468.0" y1="193.67" x2="466.2" y2="193.67"/>
<line x1="50.0" y1="184.55" x2="51.8" y2="184.55"/>
<line x1="468.0" y1="184.55" x2="466.2" y2="184.55"/>
<line x1="50.0" y1="177.48" x2="51.8" y2="177.48"/>
<line x1="468.0" y1="177.48" x2="466.2" y2="177.48"/>
<line x1="50.0" y1="171.69" x2="51.8" y2="171.69"/>
<line x1="468.0" y1="171.69" x2="466.2" y2="171.69"/>
<line x1="50.0" y1="166.81" x2="51.8" y2="166.81"/>
<line x1="468.0" y1="166.81" x2="466.2" y2="166.81"/>
<line x1="50.0" y1="162.57" x2="51.8" y2="162.57"/>
<line x1="468.0" y1="162.57" x2="466.2" y2="162.57"/>
<line x1="50.0" y1="158.84" x2="51.8" y2="158.84"/>
<line x1="468.0" y1="158.84" x2="466.2" y2="158.84"/>
<line x1="50.0" y1="228.50" x2="53.5" y2="228.50"/>
<line x1="468.0" y1="228.50" x2="464.5" y2="228.50"/>
<line x1="50.0" y1="279.52" x2="51.8" y2="279.52"/>
<line x1="468.0" y1="279.52" x2="466.2" y2="279.52"/>
<line x1="50.0" y1="266.67" x2="51.8" y2="266.67"/>
<line x1="468.0" y1="266.67" x2="466.2" y2="266.67"/>
<line x1="50.0" y1="257.55" x2="51.8" y2="257.55"/>
<line x1="468.0" y1="257.55" x2="466.2" y2="257.55"/>
<line x1="50.0" y1="250.48" x2="51.8" y2="250.48"/>
<line x1="468.0" y1="250.48" x2="466.2" y2="250.48"/>
<line x1="50.0" y1="244.69" x2="51.8" y2="244.69"/>
<line x1="468.0" y1="244.69" x2="466.2" y2="244.69"/>
<line x1="50.0" y1="239.81" x2="51.8" y2="239.81"/>
<line x1="468.0" y1="239.81" x2="466.2" y2="239.81"/>
<line x1="50.0" y1="235.57" x2="51.8" y2="235.57"/>
<line x1="468.0" y1="235.57" x2="466.2" y2="235.57"/>
<line x1="50.0" y1="231.84" x2="51.8" y2="231.84"/>
<line x1="468.0" y1="231.84" x2="466.2" y2="231.84"/>
<line x1="50.0" y1="301.50" x2="53.5" y2="301.50"/>
<line x1="468.0" y1="301.50" x2="464.5" y2="301.50"/>
<line x1="50.0" y1="323.48" x2="51.8" y2="323.48"/>
<line x1="468.0" y1="323.48" x2="466.2" y2="323.48"/>
<line x1="50.0" y1="317.69" x2="51.8" y2="317.69"/>
<line x1="468.0" y1="317.69" x2="466.2" y2="317.69"/>
<line x1="50.0" y1="312.81" x2="51.8" y2="312.81"/>
<line x1="468.0" y1="312.81" x2="466.2" y2="312.81"/>
<line x1="50.0" y1="308.57" x2="51.8" y2="308.57"/>
<line x1="468.0" y1="308.57" x2="466.2" y2="308.57"/>
<line x1="50.0" y1="304.84" x2="51.8" y2="304.84"/>
<line x1="468.0" y1="304.84" x2="466.2" y2="304.84"/>
</g>
<g font-family="'Liberation Sans', Arial, sans-serif" fill="#000" stroke="#000" stroke-width="0.25">
<text x="50.00" y="339" font-size="13.8" text-anchor="middle">0</text>
<text x="119.67" y="339" font-size="13.8" text-anchor="middle">100</text>
<text x="189.33" y="339" font-size="13.8" text-anchor="middle">200</text>
<text x="259.00" y="339" font-size="13.8" text-anchor="middle">300</text>
<text x="328.67" y="339" font-size="13.8" text-anchor="middle">400</text>
<text x="398.33" y="339" font-size="13.8" text-anchor="middle">500</text>
<text x="468.00" y="339" font-size="13.8" text-anchor="middle">600</text>
<text x="40.00" y="14.50" font-size="13.8" text-anchor="end">10</text>
<text x="40.50" y="9.30" font-size="10.3" text-anchor="start">0</text>
<text x="36.50" y="87.50" font-size="13.8" text-anchor="end">10</text>
<text x="37.00" y="82.30" font-size="10.3" text-anchor="start">-1</text>
<text x="36.50" y="160.50" font-size="13.8" text-anchor="end">10</text>
<text x="37.00" y="155.30" font-size="10.3" text-anchor="start">-2</text>
<text x="36.50" y="233.50" font-size="13.8" text-anchor="end">10</text>
<text x="37.00" y="228.30" font-size="10.3" text-anchor="start">-3</text>
<text x="36.50" y="306.50" font-size="13.8" text-anchor="end">10</text>
<text x="37.00" y="301.30" font-size="10.3" text-anchor="start">-4</text>
<text x="260" y="359.6" font-size="17.4" text-anchor="middle">Pulse area [mVns]</text>
<text transform="translate(12.3,164.7) rotate(-90)" font-size="17.3" text-anchor="middle">Normalized counts</text>
<rect x="385.8" y="15.7" width="77" height="146.8" fill="#fff" stroke="#222" stroke-width="0.9"/>
<rect x="389.8" y="20.00" width="22.6" height="8.2" fill="#6439ab" stroke="#2a1a20" stroke-opacity="0.8" stroke-width="0.7"/>
<text x="421.7" y="28.20" font-size="11.4">175 nm</text>
<rect x="389.8" y="36.05" width="22.6" height="8.2" fill="#8a55b4" stroke="#2a1a20" stroke-opacity="0.8" stroke-width="0.7"/>
<text x="421.7" y="44.25" font-size="11.4">200 nm</text>
<rect x="389.8" y="52.10" width="22.6" height="8.2" fill="#b03c7c" stroke="#2a1a20" stroke-opacity="0.8" stroke-width="0.7"/>
<text x="421.7" y="60.30" font-size="11.4">210 nm</text>
<rect x="389.8" y="68.15" width="22.6" height="8.2" fill="#bf5238" stroke="#2a1a20" stroke-opacity="0.8" stroke-width="0.7"/>
<text x="421.7" y="76.35" font-size="11.4">220 nm</text>
<rect x="389.8" y="84.20" width="22.6" height="8.2" fill="#c25c38" stroke="#2a1a20" stroke-opacity="0.8" stroke-width="0.7"/>
<text x="421.7" y="92.40" font-size="11.4">230 nm</text>
<rect x="389.8" y="100.25" width="22.6" height="8.2" fill="#c8683a" stroke="#2a1a20" stroke-opacity="0.8" stroke-width="0.7"/>
<text x="421.7" y="108.45" font-size="11.4">240 nm</text>
<rect x="389.8" y="116.30" width="22.6" height="8.2" fill="#d58038" stroke="#2a1a20" stroke-opacity="0.8" stroke-width="0.7"/>
<text x="421.7" y="124.50" font-size="11.4">250 nm</text>
<rect x="389.8" y="132.35" width="22.6" height="8.2" fill="#e0a03c" stroke="#2a1a20" stroke-opacity="0.8" stroke-width="0.7"/>
<text x="421.7" y="140.55" font-size="11.4">260 nm</text>
<rect x="389.8" y="148.40" width="22.6" height="8.2" fill="#ebc848" stroke="#2a1a20" stroke-opacity="0.8" stroke-width="0.7"/>
<text x="421.7" y="156.60" font-size="11.4">300 nm</text>
</g>
</svg>
</body></html>
